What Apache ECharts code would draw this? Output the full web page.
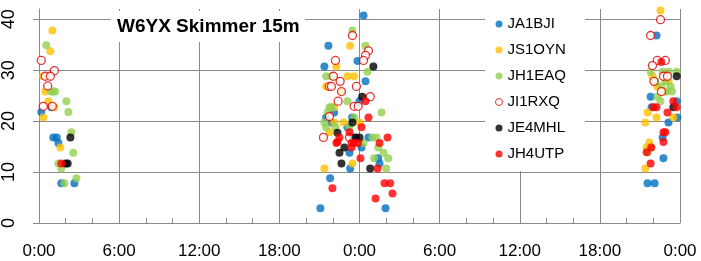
<!DOCTYPE html>
<html><head><meta charset="utf-8">
<script src="https://cdn.jsdelivr.net/npm/echarts@6/dist/echarts.min.js"></script>
<style>html,body{margin:0;padding:0;background:#fff}#c{width:701px;height:261px}</style>
</head><body><div id="c"></div>
<script>
const titleText = 'W6YX Skimmer 15m';
const seriesNames = ['JA1BJI','JS1OYN','JH1EAQ','JI1RXQ','JE4MHL','JH4UTP'];
const xTickHours = [0,6,12,18,24,30,36,42,48];
const yTickValues = [0,10,20,30,40];
// [hours since start, value]
const JA1BJI = [[0.17,21.8],[0.92,22.7],[1.07,16.8],[1.33,16.8],[1.45,15.7],[1.67,7.8],[2.65,7.8],
 [24.3,40.7],[21.67,34.8],[23.85,31.8],[21.37,30.7],[24.45,27.8],[24.0,23.9],[22.1,21.7],[21.5,20.7],[23.45,20.7],[21.9,19.7],[23.1,18.8],[23.5,16.8],[24.67,16.8],[24.15,14.8],[23.25,13.8],[25.4,12.7],[25.5,11.7],[23.3,10.7],[21.8,8.8],[21.07,2.9],[25.95,2.9],
 [46.24,36.8],[45.8,24.8],[47.75,23.9],[45.87,22.7],[47.8,20.7],[47.14,19.7],[46.7,16.8],[46.76,12.7],[45.57,7.8],[46.1,7.8]];
const JS1OYN = [[1.0,37.8],[0.85,33.7],[0.28,28.8],[0.47,25.8],[0.7,23.9],[1.15,22.7],[0.32,20.7],[1.6,14.8],
 [23.3,34.8],[22.27,30.7],[23.1,28.8],[23.6,28.8],[21.5,26.8],[21.65,26.8],[22.65,25.8],[22.1,22.7],[22.1,19.7],[22.8,19.7],[24.0,19.7],[21.75,17.8],[23.47,11.7],[21.37,10.7],
 [46.54,41.7],[45.94,28.8],[47.14,27.8],[46.3,26.8],[46.9,25.8],[45.57,21.7],[46.24,20.7],[47.5,20.7],[45.4,19.7],[45.7,15.8],[45.5,14.8],[45.8,14.8],[45.4,10.7]];
const JH1EAQ = [[0.55,34.9],[0.9,25.8],[1.05,25.8],[1.2,25.8],[2.05,23.9],[2.2,21.8],[2.42,17.8],[2.57,13.8],[1.45,11.7],[1.67,10.7],[1.9,7.8],[2.8,8.8],
 [23.47,37.8],[24.45,34.8],[24.6,29.7],[21.5,28.8],[21.9,28.8],[23.1,23.9],[21.75,22.7],[21.9,22.7],[21.6,21.7],[25.65,21.7],[23.6,20.7],[21.37,19.7],[21.5,18.8],[22.2,18.8],[23.25,18.8],[24.97,16.8],[25.27,16.8],[24.3,15.7],[25.4,14.8],[25.8,13.8],[25.1,12.7],[26.15,12.7],[26.0,10.7],
 [45.8,29.7],[46.7,29.7],[47.15,29.7],[47.75,29.7],[46.16,27.8],[46.9,27.8],[46.6,26.8],[47.3,26.8],[47.0,25.8],[47.4,25.8],[46.3,24.8],[46.54,23.9],[45.6,13.9]];
const JI1RXQ = [[0.17,31.9],[1.15,29.9],[0.47,28.8],[0.85,28.8],[0.65,26.9],[0.32,22.9],[1.0,22.9],
 [23.47,36.8],[24.67,33.8],[24.45,32.9],[24.3,31.9],[22.2,31.9],[22.05,28.8],[22.55,27.8],[21.75,26.8],[21.9,26.8],[23.77,26.8],[22.65,25.8],[24.8,24.8],[22.4,23.9],[23.6,22.9],[23.9,22.9],[21.75,20.9],[21.3,16.8],[23.25,16.8],
 [46.54,39.9],[45.8,36.8],[46.3,31.9],[46.9,31.9],[45.94,30.9],[46.76,28.8],[47.06,28.8],[46.05,27.8],[46.61,25.8]];
const JE4MHL = [[2.35,16.8],[2.0,11.7],[2.15,11.7],
 [25.04,30.7],[24.2,24.8],[23.47,19.7],[22.35,17.7],[23.7,16.8],[24.0,16.8],[22.87,14.8],[22.5,13.8],[22.65,11.7],[24.8,10.7],
 [47.75,28.8],[47.5,22.7]];
const JH4UTP = [[1.67,11.7],
 [24.45,23.9],[24.67,20.7],[24.15,18.8],[23.25,17.8],[22.5,16.8],[22.35,15.9],[26.1,16.8],[22.27,15.7],[23.4,15.7],[23.6,15.7],[23.9,15.7],[25.5,15.7],[23.4,14.8],[24.07,12.7],[25.35,10.7],[25.87,7.8],[26.3,7.8],[21.97,6.8],[26.47,5.8],[25.2,4.8],
 [46.6,31.6],[47.5,23.9],[46.0,22.7],[46.24,22.7],[47.74,22.7],[47.06,21.7],[46.76,17.8],[46.9,17.8],[46.76,15.9],[45.85,14.8],[45.5,13.9],[45.8,11.7]];
const seriesData = [JA1BJI, JS1OYN, JH1EAQ, JI1RXQ, JE4MHL, JH4UTP];
const seriesStyles = [
  {color:'#0070C0'},
  {color:'#FFC000'},
  {color:'#92D050'},
  {color:'#ffffff', borderColor:'#E00000', borderWidth:1.3},
  {color:'#000000'},
  {color:'#FF0000'}
];
const gridColor = '#8a8a8a';
const chart = echarts.init(document.getElementById('c'), null, {renderer:'canvas'});
chart.setOption({
  animation:false,
  backgroundColor:'#fff',
  title:{text:titleText, left:111, top:11, padding:[6,5,6,6], backgroundColor:'#fff',
    textStyle:{fontFamily:'Liberation Sans', fontWeight:'bold', fontSize:19, color:'#000'}},
  legend:{orient:'vertical', left:485, top:8, padding:[7,19,8,10], backgroundColor:'#fff',
    itemWidth:7, itemHeight:7, itemGap:8, icon:'circle',
    textStyle:{fontFamily:'Liberation Sans', fontSize:15, color:'#000', lineHeight:18},
    data:seriesNames.map((n,i)=> i===3 ? {name:n, itemStyle:{borderWidth:1}} : {name:n})},
  grid:{left:39, right:21, top:9, bottom:38, outerBoundsMode:'none', containLabel:false},
  xAxis:{type:'value', min:0, max:48, interval:6,
    axisLine:{show:true, onZero:false, lineStyle:{color:gridColor, width:1}},
    axisTick:{show:true, inside:true, length:5, lineStyle:{color:gridColor}},
    minorTick:{show:true, splitNumber:3, length:5, lineStyle:{color:gridColor}},
    splitLine:{show:true, lineStyle:{color:gridColor, width:1}},
    axisLabel:{margin:20, fontFamily:'Liberation Sans', fontSize:17, color:'#000',
      customValues:xTickHours,
      formatter:v=>(Math.round(v)%24)+':00'}},
  yAxis:{type:'value', min:0, max:42,
    axisLine:{show:true, lineStyle:{color:gridColor, width:1}},
    axisTick:{show:true, inside:false, length:6, customValues:yTickValues, lineStyle:{color:gridColor}},
    splitLine:{show:true, lineStyle:{color:gridColor, width:1}},
    axisLabel:{customValues:yTickValues, rotate:90, margin:21, fontFamily:'Liberation Sans', fontSize:18, color:'#000'}},
  series: seriesNames.map((n,i)=>({name:n, type:'scatter', symbol:'circle', symbolSize:8,
    itemStyle:seriesStyles[i], data:seriesData[i], z:2+i}))
});
</script></body></html>
